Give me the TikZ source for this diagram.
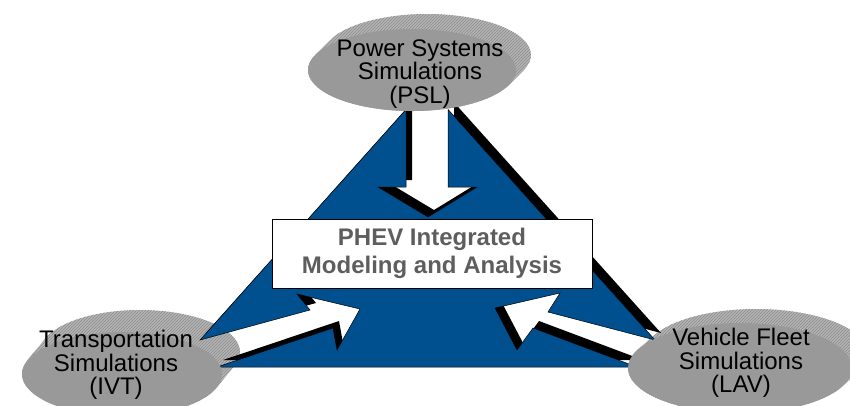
\documentclass[tikz,border=0pt]{standalone}
\usepackage{fontspec}
\setmainfont{Liberation Sans}
\usetikzlibrary{patterns}

\definecolor{triblue}{HTML}{00508F}
\definecolor{discface}{HTML}{999999}
\definecolor{discrim}{HTML}{B4B4B4}
\definecolor{rimline}{HTML}{8C8C8C}
\definecolor{coretext}{HTML}{5E5E5E}

\tikzset{
  rim/.style={fill=discrim, postaction={pattern=north east lines, pattern color=rimline}},
  face/.style={fill=discface},
  disctext/.style={align=center, inner sep=0pt, font=\fontsize{24}{23.5}\selectfont},
  corebox/.style={draw=black, fill=white, line width=0.8pt, minimum width=320pt,
    minimum height=69pt, align=center, text=coretext,
    font=\bfseries\fontsize{24}{28}\selectfont},
}

\begin{document}
\begin{tikzpicture}[x=1pt, y=-1pt]
        \useasboundingbox (0,0) rectangle (850,405);
        \clip (0,0) rectangle (850,405);

        %Rims
        \path[rim] (412,70) ++(-21.5:104pt and 41pt) -- ++(15,-15)
          arc[start angle=-21.5, end angle=158.5, x radius=104pt, y radius=41pt] -- ++(-15,15)
          arc[start angle=158.5, end angle=338.5, x radius=104pt, y radius=41pt] -- cycle; %PSL
        \path[rim] (122,374) ++(-19:100pt and 42pt) -- ++(18,-22)
          arc[start angle=-19, end angle=161, x radius=100pt, y radius=42pt] -- ++(-18,22)
          arc[start angle=161, end angle=341, x radius=100pt, y radius=42pt] -- cycle; %IVT
        \path[rim] (740,368) ++(-24.7:112pt and 45pt) -- ++(16,-14)
          arc[start angle=-24.7, end angle=155.3, x radius=112pt, y radius=45pt] -- ++(-16,14)
          arc[start angle=155.3, end angle=335.3, x radius=112pt, y radius=45pt] -- cycle; %LAV

        %Triangle shadow
        \fill[black, shift={(6,-7)}] (217,367) -- (333,328) -- (337,350) -- (360,309) -- (297,294)
          -- (310,310) -- (200,340) -- (406,109.5) -- (406,187) -- (378,187) -- (428,217)
          -- (477,187) -- (448,187) -- (448,109.4) -- (655,340) -- (548,312) -- (560,293)
          -- (495,308) -- (517,350) -- (533,328) -- (637,367) -- cycle;
        %Triangle
        \filldraw[fill=triblue, draw=black, line width=0.5pt] (217,367) -- (333,328) -- (337,350)
          -- (360,309) -- (297,294) -- (310,310) -- (200,340) -- (406,109.5) -- (406,187)
          -- (378,187) -- (428,217) -- (477,187) -- (448,187) -- (448,109.4) -- (655,340)
          -- (548,312) -- (560,293) -- (495,308) -- (517,350) -- (533,328) -- (637,367) -- cycle;

        %Faces
        \fill[face] (412,70) ellipse [x radius=104pt, y radius=41pt];
        \fill[face] (122,374) ellipse [x radius=100pt, y radius=42pt];
        \fill[face] (740,368) ellipse [x radius=112pt, y radius=45pt];

        %Simulations
        \node[disctext] (psl) at (420,74) {Power Systems\\Simulations\\(PSL)};
        \node[disctext] (ivt) at (116,365) {Transportation\\Simulations\\(IVT)};
        \node[disctext] (lav) at (741,363) {Vehicle Fleet\\Simulations\\(LAV)};

        %Core
        \node[corebox] (core) at (432,253.5) {PHEV Integrated\\Modeling and Analysis};
\end{tikzpicture}
\end{document}
